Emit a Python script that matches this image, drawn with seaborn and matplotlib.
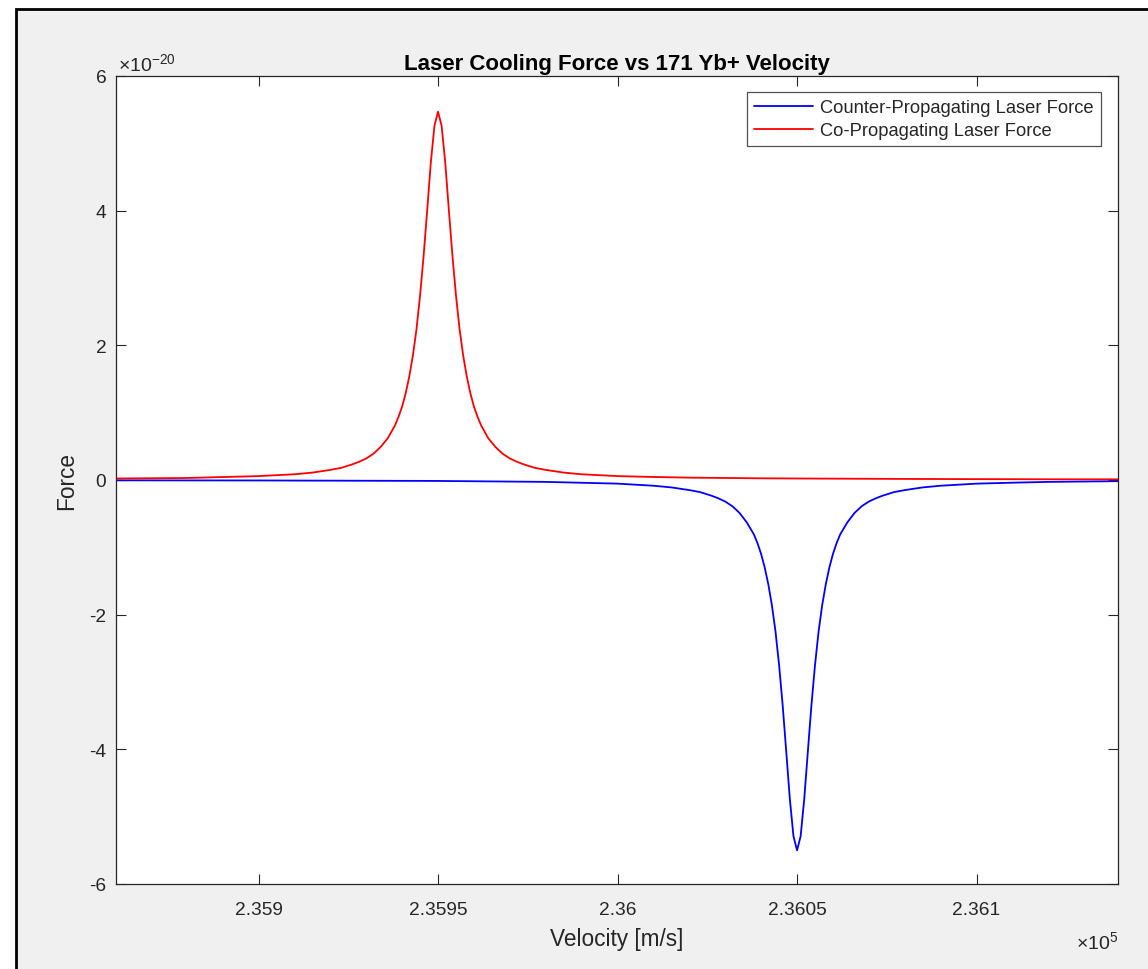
import numpy as np
import pandas as pd
import matplotlib
matplotlib.use("Agg")
import matplotlib.pyplot as plt
from matplotlib.patches import Rectangle
from matplotlib.ticker import FuncFormatter, FixedLocator
import seaborn as sns

# ---- data (velocity in m/s, force in units of 1e-20 N) ----
co_velocity = [235860, 235880, 235900, 235910, 235915, 235920, 235923, 235926, 235928, 235930,
               235932, 235934, 235936, 235938, 235939,
               235940, 235941, 235942, 235943, 235944, 235945, 235946, 235947, 235948, 235949,
               235950, 235951, 235952, 235953, 235954, 235955, 235956, 235957, 235958, 235959,
               235960, 235961, 235962, 235964, 235966, 235968, 235970, 235972, 235974, 235977,
               235980, 235985, 235990, 236000, 236010, 236020,
               236040, 236060, 236080, 236100, 236120, 236140]
co_force = [0.022, 0.03, 0.058, 0.085, 0.11, 0.15, 0.18, 0.23, 0.27, 0.32,
            0.39, 0.49, 0.62, 0.81, 0.94,
            1.09, 1.29, 1.54, 1.85, 2.24, 2.74, 3.34, 4.02, 4.72, 5.26,
            5.47, 5.26, 4.72, 4.02, 3.34, 2.74, 2.24, 1.85, 1.54, 1.29,
            1.09, 0.94, 0.81, 0.62, 0.49, 0.39, 0.32, 0.27, 0.23, 0.18,
            0.15, 0.11, 0.085, 0.058, 0.045, 0.035,
            0.025, 0.02, 0.016, 0.013, 0.011, 0.01]

counter_velocity = [235860, 235900, 235950, 235980, 236000, 236010, 236015, 236020, 236023, 236026,
                    236028, 236030, 236032, 236034, 236036, 236038, 236039,
                    236040, 236041, 236042, 236043, 236044, 236045, 236046, 236047,
                    236048, 236049, 236050, 236051, 236052, 236053, 236054, 236055, 236056, 236057,
                    236058, 236059, 236060, 236061, 236062, 236064, 236066, 236068, 236070, 236072,
                    236074, 236077, 236080, 236085, 236090,
                    236100, 236110, 236120, 236140]
counter_force = [-0.005, -0.007, -0.014, -0.028, -0.054, -0.085, -0.11, -0.15, -0.18, -0.23,
                 -0.27, -0.32, -0.39, -0.49, -0.63, -0.81, -0.94,
                 -1.10, -1.30, -1.55, -1.86, -2.25, -2.75, -3.35, -4.04,
                 -4.74, -5.29, -5.50, -5.29, -4.74, -4.04, -3.35, -2.75, -2.25, -1.86,
                 -1.55, -1.30, -1.10, -0.94, -0.81, -0.63, -0.49, -0.39, -0.32, -0.27,
                 -0.23, -0.18, -0.15, -0.11, -0.085,
                 -0.054, -0.04, -0.028, -0.017]

series_names = ["Counter-Propagating Laser Force", "Co-Propagating Laser Force"]
series_colors = ["#0000ff", "#ff0000"]
x_ticks = [235900, 235950, 236000, 236050, 236100]
y_ticks = [-6, -4, -2, 0, 2, 4, 6]

df = pd.concat([
    pd.DataFrame({"Velocity": counter_velocity, "Force": counter_force, "Series": series_names[0]}),
    pd.DataFrame({"Velocity": co_velocity, "Force": co_force, "Series": series_names[1]}),
], ignore_index=True)

sns.set_style("white")
plt.rcParams["font.family"] = ["Liberation Sans", "DejaVu Sans"]
plt.rcParams["mathtext.fontset"] = "custom"
plt.rcParams["mathtext.rm"] = "Liberation Sans"

W, H = 1148, 970
fig = plt.figure(figsize=(W / 100, H / 100), dpi=100, facecolor="white")
# screenshot frame
fig.patches.append(Rectangle((16 / W, -0.1), 1.2, 1.1 - 10 / H, transform=fig.transFigure,
                             facecolor="#f0f0f0", edgecolor="black", linewidth=2, zorder=-10))

ax = fig.add_axes([116 / W, 85 / H, 1002 / W, 808 / H])
ax.set_zorder(5)
ax.set_facecolor("white")

sns.lineplot(data=df, x="Velocity", y="Force", hue="Series", palette=series_colors,
             hue_order=series_names, sort=False, estimator=None, linewidth=1.3, ax=ax)

ax.set_xlim(235860.3, 236139.4)
ax.set_ylim(-6, 6)
ax.xaxis.set_major_locator(FixedLocator(x_ticks))
ax.yaxis.set_major_locator(FixedLocator(y_ticks))
ax.xaxis.set_major_formatter(FuncFormatter(lambda v, p: "%g" % round(v / 1e5, 6)))
ax.yaxis.set_major_formatter(FuncFormatter(lambda v, p: "%g" % v))

dark = "#262626"
for s in ax.spines.values():
    s.set_visible(True)
    s.set_color(dark)
    s.set_linewidth(0.9)
ax.tick_params(direction="in", length=7, width=0.8, colors=dark, labelsize=13.8,
               top=True, right=True, bottom=True, left=True)
ax.tick_params(axis="x", pad=12)
ax.tick_params(axis="y", pad=7)
for lab in ax.get_xticklabels() + ax.get_yticklabels():
    lab.set_color(dark)

ax.set_xlabel("Velocity [m/s]", fontsize=16.3, color=dark, labelpad=7)
ax.set_ylabel("Force", fontsize=16.3, color=dark, labelpad=8)
ax.set_title("Laser Cooling Force vs 171 Yb+ Velocity", fontsize=16, fontweight="bold",
             color="black", pad=5)

ax.text(0.0015, 1.006, r"$\times10^{-20}$", transform=ax.transAxes, fontsize=14,
        color=dark, ha="left", va="baseline")
ax.text(1.0, -0.0804, r"$\times10^{5}$", transform=ax.transAxes, fontsize=14,
        color=dark, ha="right", va="baseline")

leg = ax.legend(loc="upper right", bbox_to_anchor=(0.983, 0.980), borderaxespad=0,
                frameon=True, fancybox=False, fontsize=13.2, handlelength=3.2,
                handletextpad=0.4, borderpad=0.4, labelspacing=0.3)
leg.get_frame().set_edgecolor(dark)
leg.get_frame().set_linewidth(0.9)
for t in leg.get_texts():
    t.set_color(dark)

fig.savefig("out.png", dpi=100, facecolor=fig.get_facecolor())
